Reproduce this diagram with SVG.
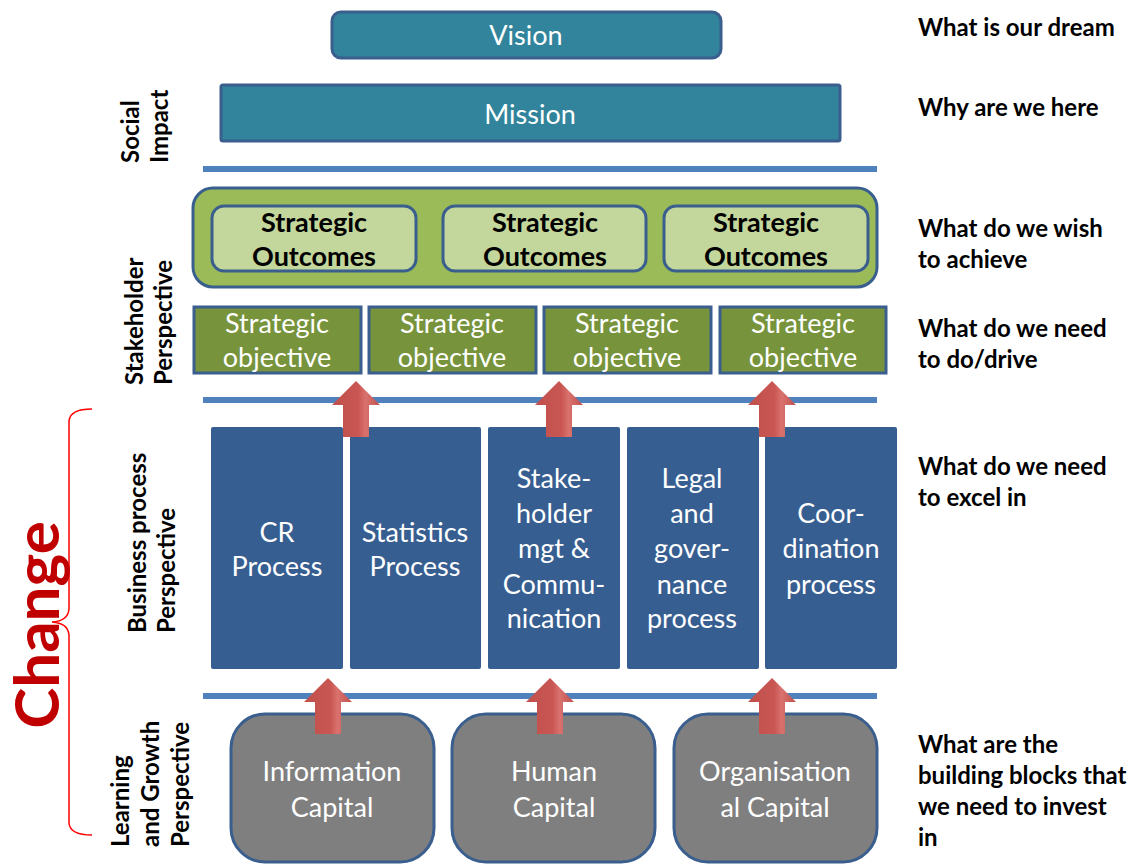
<svg xmlns="http://www.w3.org/2000/svg" xmlns:xlink="http://www.w3.org/1999/xlink" width="1139" height="864" viewBox="0 0 1139 864">
<style>
.teal{fill:#31849B;stroke:#3A5F8E;stroke-width:3}
.outer{fill:#9BBB59;stroke:#3A5F8E;stroke-width:3}
.inner{fill:#C3D69B;stroke:#3A5F8E;stroke-width:3}
.obj{fill:#77933C;stroke:#3A5F8E;stroke-width:3}
.proc{fill:#375E91}
.cap{fill:#7F7F7F;stroke:#3A5F8E;stroke-width:3}
.bar{fill:#4F81BD}
.w{font-family:Lato,"Open Sans",sans-serif;font-size:27px;fill:#fff;text-anchor:middle}
.b{font-family:Lato,"Open Sans",sans-serif;font-size:27px;font-weight:bold;fill:#000;text-anchor:middle}
.lbl{font-family:Lato,"Open Sans",sans-serif;font-size:24px;font-weight:bold;fill:#000}
.side{font-family:Lato,"Open Sans",sans-serif;font-size:24px;font-weight:bold;fill:#000}
.change{font-family:Lato,"Open Sans",sans-serif;font-size:62px;font-weight:bold;fill:#C00000;text-anchor:middle}
</style>
<defs>
<linearGradient id="ag" x1="0" y1="0" x2="1" y2="0">
<stop offset="0" stop-color="#C0504D"/>
<stop offset="0.55" stop-color="#C95652"/>
<stop offset="0.7" stop-color="#D9726E"/>
<stop offset="1" stop-color="#C0504D"/>
</linearGradient>
<path id="arrow" d="M0,0 L24,24 L13,24 L13,56 L-13,56 L-13,24 L-24,24 Z" fill="url(#ag)"/>
</defs>

<g id="dividers">
<rect class="bar" x="203" y="166" width="674" height="6"/>
<rect class="bar" x="203" y="397" width="674" height="6"/>
<rect class="bar" x="203" y="693" width="674" height="6"/>
</g>

<g id="vision">
<rect class="teal" x="332" y="12" width="389" height="46" rx="9"/>
<text class="w" x="526" y="45">Vision</text>
</g>
<g id="mission">
<rect class="teal" x="221" y="85" width="619" height="56" rx="2"/>
<text class="w" x="530" y="124">Mission</text>
</g>

<g id="outcomes">
<rect class="outer" x="193" y="188" width="684" height="99" rx="20"/>
<g id="outcome1">
<rect class="inner" x="212" y="206" width="204" height="65" rx="12"/>
<text class="b" x="314" y="232">Strategic</text>
<text class="b" x="314" y="266">Outcomes</text>
</g>
<g id="outcome2">
<rect class="inner" x="443" y="206" width="203" height="65" rx="12"/>
<text class="b" x="545" y="232">Strategic</text>
<text class="b" x="545" y="266">Outcomes</text>
</g>
<g id="outcome3">
<rect class="inner" x="664" y="206" width="204" height="65" rx="12"/>
<text class="b" x="766" y="232">Strategic</text>
<text class="b" x="766" y="266">Outcomes</text>
</g>
</g>

<g id="objective1">
<rect class="obj" x="194" y="307" width="167" height="66"/>
<text class="w" x="277" y="333">Strategic</text>
<text class="w" x="277" y="367">objective</text>
</g>
<g id="objective2">
<rect class="obj" x="369" y="307" width="167" height="66"/>
<text class="w" x="452" y="333">Strategic</text>
<text class="w" x="452" y="367">objective</text>
</g>
<g id="objective3">
<rect class="obj" x="544" y="307" width="167" height="66"/>
<text class="w" x="627" y="333">Strategic</text>
<text class="w" x="627" y="367">objective</text>
</g>
<g id="objective4">
<rect class="obj" x="720" y="307" width="166" height="66"/>
<text class="w" x="803" y="333">Strategic</text>
<text class="w" x="803" y="367">objective</text>
</g>

<g id="process1">
<rect class="proc" x="211" y="427" width="132" height="242" rx="2"/>
<text class="w" x="277" y="542">CR</text>
<text class="w" x="277" y="576">Process</text>
</g>
<g id="process2">
<rect class="proc" x="350" y="427" width="131" height="242" rx="2"/>
<text class="w" x="415" y="542">Statistics</text>
<text class="w" x="415" y="576">Process</text>
</g>
<g id="process3">
<rect class="proc" x="488" y="427" width="132" height="242" rx="2"/>
<text class="w" x="554" y="488">Stake-</text>
<text class="w" x="554" y="523">holder</text>
<text class="w" x="554" y="558">mgt &amp;</text>
<text class="w" x="554" y="594">Commu-</text>
<text class="w" x="554" y="628">nication</text>
</g>
<g id="process4">
<rect class="proc" x="627" y="427" width="132" height="242" rx="2"/>
<text class="w" x="692" y="488">Legal</text>
<text class="w" x="692" y="523">and</text>
<text class="w" x="692" y="558">gover-</text>
<text class="w" x="692" y="594">nance</text>
<text class="w" x="692" y="628">process</text>
</g>
<g id="process5">
<rect class="proc" x="765" y="427" width="132" height="242" rx="2"/>
<text class="w" x="831" y="523">Coor-</text>
<text class="w" x="831" y="558">dination</text>
<text class="w" x="831" y="594">process</text>
</g>

<g id="capital1">
<rect class="cap" x="231" y="714" width="203" height="148" rx="34"/>
<text class="w" x="332" y="781">Information</text>
<text class="w" x="332" y="817">Capital</text>
</g>
<g id="capital2">
<rect class="cap" x="452" y="714" width="203" height="148" rx="34"/>
<text class="w" x="554" y="781">Human</text>
<text class="w" x="554" y="817">Capital</text>
</g>
<g id="capital3">
<rect class="cap" x="674" y="714" width="203" height="148" rx="34"/>
<text class="w" x="775" y="781">Organisation</text>
<text class="w" x="775" y="817">al Capital</text>
</g>

<g id="connectors">
<use xlink:href="#arrow" href="#arrow" x="356" y="381"/>
<use xlink:href="#arrow" href="#arrow" x="559" y="381"/>
<use xlink:href="#arrow" href="#arrow" x="772" y="381"/>
<use xlink:href="#arrow" href="#arrow" x="328" y="678"/>
<use xlink:href="#arrow" href="#arrow" x="550" y="678"/>
<use xlink:href="#arrow" href="#arrow" x="772" y="678"/>
</g>

<g id="side-labels">
<text class="side" transform="translate(139,163) rotate(-90)">Social</text>
<text class="side" transform="translate(168,163) rotate(-90)">Impact</text>
<text class="side" transform="translate(143,385) rotate(-90)">Stakeholder</text>
<text class="side" transform="translate(172,385) rotate(-90)">Perspective</text>
<text class="side" transform="translate(146,633) rotate(-90)">Business process</text>
<text class="side" transform="translate(175,633) rotate(-90)">Perspective</text>
<text class="side" transform="translate(129,847) rotate(-90)">Learning</text>
<text class="side" transform="translate(159,847) rotate(-90)">and Growth</text>
<text class="side" transform="translate(189,847) rotate(-90)">Perspective</text>
</g>

<g id="change">
<path d="M92,409 Q70,409 69,421 L69,609 Q68,621 52,622 Q68,623 69,635 L69,823 Q70,835 92,835" fill="none" stroke="#FF0000" stroke-width="1.5"/>
<text class="change" transform="translate(59,625) rotate(-90)">Change</text>
</g>

<g id="right-labels">
<text class="lbl" x="918" y="36">What is our dream</text>
<text class="lbl" x="918" y="116">Why are we here</text>
<text class="lbl" x="918" y="237">What do we wish</text>
<text class="lbl" x="918" y="268">to achieve</text>
<text class="lbl" x="918" y="337">What do we need</text>
<text class="lbl" x="918" y="368">to do/drive</text>
<text class="lbl" x="918" y="475">What do we need</text>
<text class="lbl" x="918" y="506">to excel in</text>
<text class="lbl" x="918" y="753">What are the</text>
<text class="lbl" x="918" y="784">building blocks that</text>
<text class="lbl" x="918" y="815">we need to invest</text>
<text class="lbl" x="918" y="846">in</text>
</g>
</svg>
